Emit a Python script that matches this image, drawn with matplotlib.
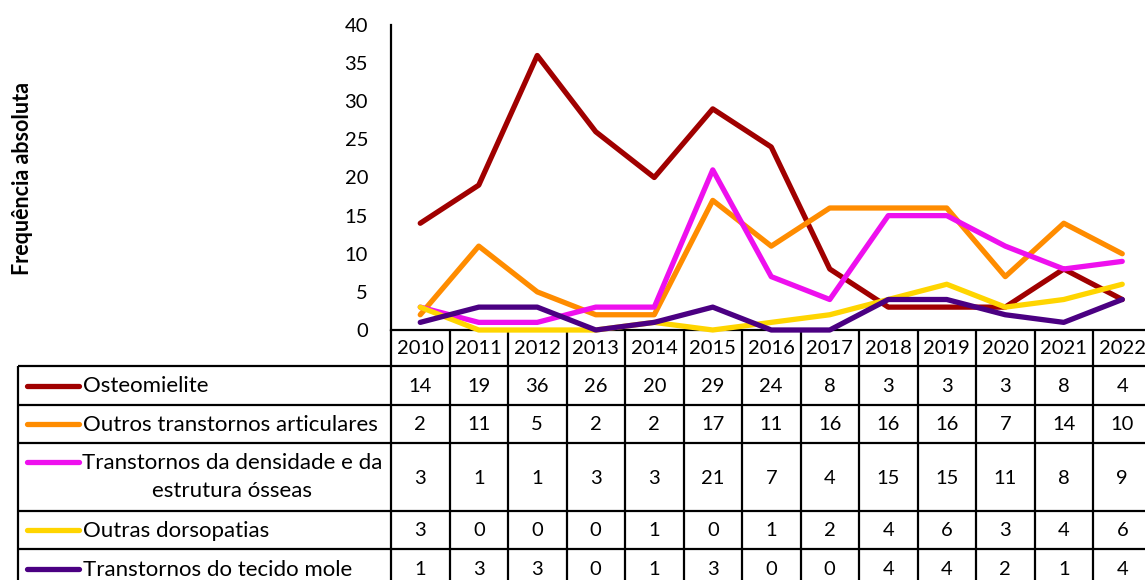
import matplotlib
matplotlib.use("Agg")
import matplotlib.pyplot as plt

years = ["2010", "2011", "2012", "2013", "2014", "2015", "2016",
         "2017", "2018", "2019", "2020", "2021", "2022"]
series_names = ["Osteomielite",
                "Outros transtornos articulares",
                "Transtornos da densidade e da\nestrutura ósseas",
                "Outras dorsopatias",
                "Transtornos do tecido mole"]
osteomielite = [14, 19, 36, 26, 20, 29, 24, 8, 3, 3, 3, 8, 4]
outros_articulares = [2, 11, 5, 2, 2, 17, 11, 16, 16, 16, 7, 14, 10]
densidade_ossea = [3, 1, 1, 3, 3, 21, 7, 4, 15, 15, 11, 8, 9]
outras_dorsopatias = [3, 0, 0, 0, 1, 0, 1, 2, 4, 6, 3, 4, 6]
tecido_mole = [1, 3, 3, 0, 1, 3, 0, 0, 4, 4, 2, 1, 4]
series_values = [osteomielite, outros_articulares, densidade_ossea,
                 outras_dorsopatias, tecido_mole]
colors = ["#A00000", "#FF8C00", "#EE10EE", "#FFD500", "#4B0082"]
y_ticks = [0, 5, 10, 15, 20, 25, 30, 35, 40]
y_label = "Frequência absoluta"

FONT = "Lato"
FS = 14.5      # numbers
FS_LAB = 16    # row labels

W, H = 1145, 580
fig = plt.figure(figsize=(W / 100, H / 100), dpi=100)

# layout in pixels
ax_left, ax_top, ax_bottom = 391, 25, 330
col_w = 58.5
ncol = len(years)
ax_right = ax_left + col_w * ncol

ax = fig.add_axes([ax_left / W, 1 - ax_bottom / H,
                   (ax_right - ax_left) / W, (ax_bottom - ax_top) / H])
x = list(range(ncol))
for vals, c in zip(series_values, colors):
    ax.plot(x, vals, color=c, lw=3.8, solid_capstyle="round",
            solid_joinstyle="round", clip_on=False, zorder=3)
ax.set_xlim(-0.5, ncol - 0.5)
ax.set_ylim(0, 40)
ax.set_yticks(y_ticks)
ax.set_xticks([])
for s in ["top", "right"]:
    ax.spines[s].set_visible(False)
ax.spines["left"].set_linewidth(1.6)
ax.spines["bottom"].set_linewidth(1.6)
ax.tick_params(axis="y", length=0, pad=16.5)
for lab in ax.get_yticklabels():
    lab.set_fontfamily(FONT)
    lab.set_fontsize(FS)
ax.patch.set_visible(False)

# table overlay in pixel coordinates
tab = fig.add_axes([0, 0, 1, 1], zorder=-1)
tab.set_xlim(0, W)
tab.set_ylim(H, 0)
tab.axis("off")

fig.text(23 / W, 1 - 178 / H, y_label, rotation=90, ha="center", va="center",
         fontsize=15.5, fontweight="bold", family=FONT)

row_edges = [330, 366, 405, 443, 511, 549, 588]
left_edge = 18
lw = 1.6
col_edges = [ax_left + col_w * i for i in range(ncol + 1)]
for xe in col_edges:
    tab.plot([xe, xe], [row_edges[0], row_edges[-1]], color="black", lw=lw,
             solid_capstyle="butt")
tab.plot([left_edge, left_edge], [row_edges[1], row_edges[-1]], color="black",
         lw=lw, solid_capstyle="butt")
for ye in row_edges[1:]:
    tab.plot([left_edge, col_edges[-1]], [ye, ye], color="black", lw=lw,
             solid_capstyle="butt")
for i, yr in enumerate(years):
    tab.text(ax_left + col_w * (i + 0.5), (row_edges[0] + row_edges[1]) / 2 + 1,
             yr, ha="center", va="center", fontsize=FS, family=FONT)

for r, (name, vals, c) in enumerate(zip(series_names, series_values, colors)):
    y0, y1 = row_edges[r + 1], row_edges[r + 2]
    yc = (y0 + y1) / 2
    lines = name.split("\n")
    if len(lines) == 1:
        tab.plot([27, 79], [yc, yc], color=c, lw=3.8, solid_capstyle="round")
        tab.text(83, yc + 1, name, ha="left", va="center", fontsize=FS_LAB, family=FONT)
    else:
        ya, yb = yc - 15, yc + 13
        tab.plot([27, 79], [ya, ya], color=c, lw=3.8, solid_capstyle="round")
        tab.text(232, ya + 1, lines[0], ha="center", va="center", fontsize=FS_LAB, family=FONT)
        tab.text(232, yb + 1, lines[1], ha="center", va="center", fontsize=FS_LAB, family=FONT)
    for i, v in enumerate(vals):
        tab.text(ax_left + col_w * (i + 0.5), yc + 1, str(v), ha="center",
                 va="center", fontsize=FS, family=FONT)

fig.savefig("out.png", dpi=100)
